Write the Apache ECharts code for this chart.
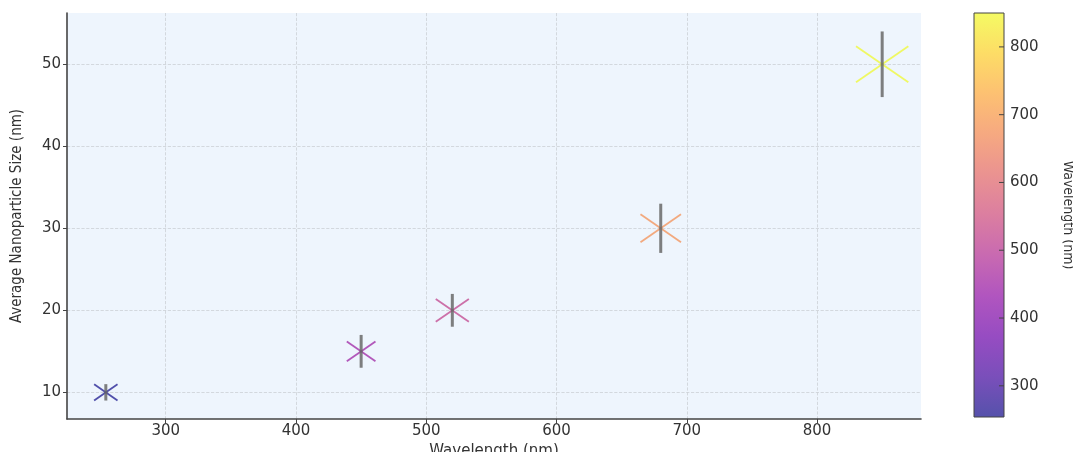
<!DOCTYPE html>
<html><head><meta charset="utf-8">
<script src="https://cdn.jsdelivr.net/npm/echarts@6/dist/echarts.min.js"></script>
<style>html,body{margin:0;padding:0;background:#fff}#c{width:1073px;height:452px}</style>
</head><body><div id="c"></div>
<script>
const wavelengths = [254, 450, 520, 680, 850];
const sizes = [10, 15, 20, 30, 50];
const sizeErrors = [1, 2, 2, 3, 4];
const xTicks = [300, 400, 500, 600, 700, 800];
const yTicks = [10, 20, 30, 40, 50];
const cbTicks = [300, 400, 500, 600, 700, 800];
const plasma = ['#0d0887','#41049d','#6a00a8','#8f0da4','#b12a90','#cc4778','#e16462','#f2844b','#fca636','#fcce25','#f0f921'];

function rgba(hex, a) {
  const n = parseInt(hex.slice(1), 16);
  return 'rgba(' + ((n >> 16) & 255) + ',' + ((n >> 8) & 255) + ',' + (n & 255) + ',' + a + ')';
}
const alpha = 0.7;
const plasmaA = plasma.map(c => rgba(c, alpha));

const xMinD = Math.min(...wavelengths), xMaxD = Math.max(...wavelengths);
const xPad = (xMaxD - xMinD) * 0.05;
const lo = sizes.map((v, i) => v - sizeErrors[i]);
const hi = sizes.map((v, i) => v + sizeErrors[i]);
const yMinD = Math.min(...lo), yMaxD = Math.max(...hi);
const yPad = (yMaxD - yMinD) * 0.05;

const markerData = wavelengths.map((w, i) => [w, sizes[i], sizes[i]]);
const errData = wavelengths.map((w, i) => [w, lo[i], hi[i]]);

const font = 'DejaVu Sans';
const chart = echarts.init(document.getElementById('c'), null, {renderer: 'canvas'});
chart.setOption({
  animation: false,
  backgroundColor: '#ffffff',
  grid: [
    {left: 67, right: 152, top: 13, bottom: 33, show: true, backgroundColor: '#eef5fd', borderWidth: 0,
     containLabel: false, outerBoundsMode: 'none'},
    {left: 974, width: 30, top: 13, height: 404, show: false, containLabel: false, outerBoundsMode: 'none'}
  ],
  xAxis: [
    {
      type: 'value', gridIndex: 0, min: xMinD - xPad, max: xMaxD + xPad,
      name: 'Wavelength (nm)', nameLocation: 'middle', nameGap: 17,
      nameTextStyle: {fontFamily: font, fontSize: 15, color: '#333'},
      axisLine: {show: true, onZero: false, lineStyle: {color: '#444', width: 1.6}},
      axisTick: {show: true, length: 4, customValues: xTicks, lineStyle: {color: '#444', width: 1}},
      axisLabel: {customValues: xTicks, fontFamily: font, fontSize: 15, color: '#333', margin: 5},
      splitLine: {show: true, lineStyle: {color: '#ccd0d6', type: 'dashed', width: 0.8}}
    },
    {type: 'value', gridIndex: 1, min: 0, max: 1, show: false}
  ],
  yAxis: [
    {
      type: 'value', gridIndex: 0, min: yMinD - yPad, max: yMaxD + yPad,
      name: 'Average Nanoparticle Size (nm)', nameLocation: 'middle', nameGap: 42,
      nameTextStyle: {fontFamily: 'DejaVu Sans Condensed', fontSize: 15, color: '#333'},
      axisLine: {show: true, onZero: false, lineStyle: {color: '#444', width: 1.6}},
      axisTick: {show: true, length: 4, customValues: yTicks, lineStyle: {color: '#444', width: 1}},
      axisLabel: {customValues: yTicks, fontFamily: font, fontSize: 15, color: '#333', margin: 6},
      splitLine: {show: true, lineStyle: {color: '#ccd0d6', type: 'dashed', width: 0.8}}
    },
    {
      type: 'value', gridIndex: 1, position: 'right', min: xMinD, max: xMaxD,
      name: 'Wavelength (nm)', nameLocation: 'middle', nameGap: 57, nameRotate: -90,
      nameTextStyle: {fontFamily: 'DejaVu Sans Condensed', fontSize: 14, color: '#333'},
      axisLine: {show: false},
      axisTick: {show: false},
      axisLabel: {customValues: cbTicks, fontFamily: font, fontSize: 15, color: '#333', margin: 6},
      splitLine: {show: false}
    }
  ],
  visualMap: {
    type: 'continuous', show: false, min: xMinD, max: xMaxD, dimension: 0, seriesIndex: 0,
    inRange: {color: plasmaA}
  },
  series: [
    {
      type: 'custom', xAxisIndex: 0, yAxisIndex: 0, data: markerData,
      encode: {x: 0, y: 1},
      renderItem: function (params, api) {
        const c = api.coord([api.value(0), api.value(1)]);
        const s = Math.sqrt(api.value(2));
        const hw = 3.7 * s, hh = 2.55 * s;
        const col = api.visual('color');
        const st = {stroke: col, lineWidth: 1.8, fill: null};
        return {type: 'group', children: [
          {type: 'line', shape: {x1: c[0] - hw, y1: c[1] - hh, x2: c[0] + hw, y2: c[1] + hh}, style: st},
          {type: 'line', shape: {x1: c[0] - hw, y1: c[1] + hh, x2: c[0] + hw, y2: c[1] - hh}, style: st}
        ]};
      },
      z: 3
    },
    {
      type: 'custom', xAxisIndex: 0, yAxisIndex: 0, data: errData,
      encode: {x: 0, y: [1, 2]},
      renderItem: function (params, api) {
        const a = api.coord([api.value(0), api.value(1)]);
        const b = api.coord([api.value(0), api.value(2)]);
        return {type: 'line', shape: {x1: a[0], y1: a[1], x2: b[0], y2: b[1]},
          style: {stroke: 'rgba(105,105,105,0.85)', lineWidth: 3}};
      },
      z: 4
    },
    {
      type: 'custom', xAxisIndex: 1, yAxisIndex: 1, data: [[0, xMinD, xMaxD]],
      encode: {x: 0, y: [1, 2]},
      renderItem: function (params, api) {
        const top = api.coord([0, api.value(2)]);
        const bot = api.coord([1, api.value(1)]);
        const stops = plasmaA.map((c, i) => ({offset: i / (plasmaA.length - 1), color: c}));
        const children = [{type: 'rect',
          shape: {x: top[0], y: top[1], width: bot[0] - top[0], height: bot[1] - top[1]},
          style: {fill: new echarts.graphic.LinearGradient(0, 1, 0, 0, stops), stroke: '#444', lineWidth: 1}}];
        cbTicks.forEach(t => {
          const p = api.coord([1, t]);
          children.push({type: 'line', shape: {x1: p[0] - 5, y1: p[1], x2: p[0], y2: p[1]},
            style: {stroke: '#444', lineWidth: 1}});
        });
        return {type: 'group', children: children};
      },
      silent: true, z: 1
    }
  ]
});
</script>
</body></html>
